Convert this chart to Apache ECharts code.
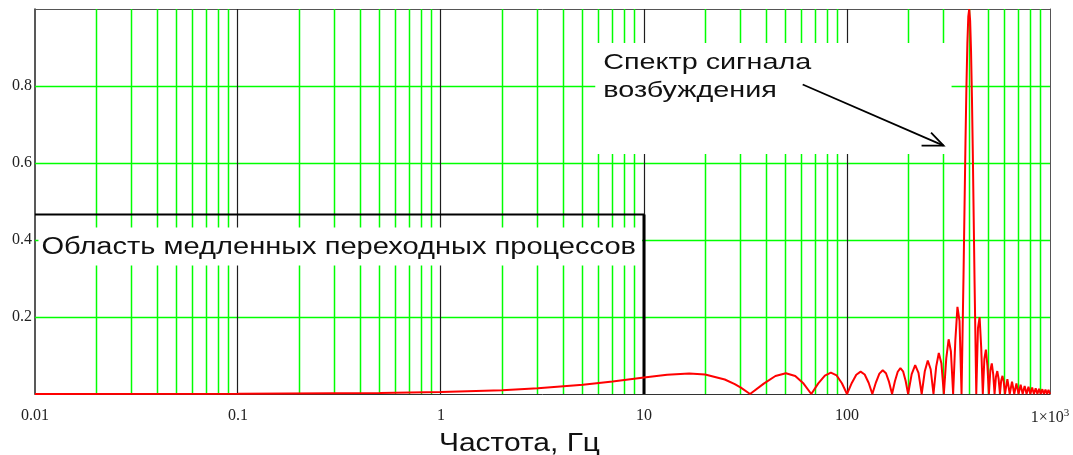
<!DOCTYPE html>
<html>
<head>
<meta charset="utf-8">
<script src="https://cdn.jsdelivr.net/npm/echarts@6/dist/echarts.min.js"></script>
<style>
  html, body { margin: 0; padding: 0; background: #ffffff; }
  #chart { width: 1073px; height: 455px; }
</style>
</head>
<body>
<div id="chart"></div>
<script>
// Spectrum of the excitation signal: frequency (Hz) and normalized magnitude
const freqHz = [
  0.01, 0.1, 0.5, 1, 2, 3, 5, 7, 10, 13, 16.7, 20, 25, 28, 30,
  33.3, 38.9, 44.4, 50, 55.6, 61.1,
  66.7, 72.2, 77.8, 83.3, 88.9, 94.4,
  100, 105.6, 111.1, 116.7, 122.2, 127.8,
  133.3, 138.9, 144.4, 150, 155.6, 161.1,
  166.7, 172.2, 177.8, 183.3, 188.9, 194.4,
  200, 208.3, 216.7, 225,
  233.3, 241.7, 250, 258.3,
  266.7, 275, 283.3, 291.7,
  300, 308.3, 316.7, 325,
  333.3, 341.7, 350, 358.3,
  366.7, 375, 379.2, 383.3, 387.5, 391.7, 395.8, 400, 404.2, 408.3, 412.5, 416.7, 420.8, 425,
  433.3, 441.7, 450, 458.3,
  466.7, 475, 483.3, 491.7,
  500, 508.3, 516.7, 525,
  533.3, 541.7, 550, 558.3,
  566.7, 575, 583.3, 591.7,
  600, 616.7, 633.3, 650, 666.7, 683.3, 700, 716.7, 733.3, 750, 766.7,
  783.3, 800, 816.7, 833.3, 850, 866.7, 883.3, 900, 916.7, 933.3, 950, 966.7, 983.3, 1000
];
const amplitude = [
  0, 0.0005, 0.0025, 0.005, 0.010, 0.0148, 0.0241, 0.0325, 0.0429, 0.0500, 0.0531, 0.0506, 0.0377, 0.0258, 0.0165,
  0, 0.0269, 0.0467, 0.0539, 0.0468, 0.0271,
  0, 0.0276, 0.0479, 0.0555, 0.0482, 0.0279,
  0, 0.0287, 0.0499, 0.0580, 0.0505, 0.0293,
  0, 0.0304, 0.0530, 0.0617, 0.0538, 0.0313,
  0, 0.0331, 0.0578, 0.0672, 0.0589, 0.0343,
  0, 0.0515, 0.0751, 0.0549,
  0, 0.0591, 0.0871, 0.0643,
  0, 0.0711, 0.1065, 0.0801,
  0, 0.0924, 0.1421, 0.1104,
  0, 0.1387, 0.2264, 0.1899,
  0, 0.310, 0.483, 0.650, 0.797, 0.910, 0.980, 1.0, 0.970, 0.891, 0.772, 0.624, 0.459, 0.291,
  0, 0.171, 0.1997, 0.120,
  0, 0.0914, 0.1153, 0.0734,
  0, 0.0610, 0.0794, 0.0519,
  0, 0.0450, 0.0596, 0.0395,
  0, 0.0352, 0.0471, 0.0316,
  0, 0.0385, 0, 0.0323, 0, 0.0277, 0, 0.0240, 0, 0.0211, 0,
  0.0187, 0, 0.0167, 0, 0.0151, 0, 0.0137, 0, 0.0125, 0, 0.0114, 0, 0.0105, 0
];

// Slow-transient region: from the left edge up to 10 Hz, bounded at this level
const regionFreq = [0.01, 10];
const regionLevel = 0.466;

// Axis ticks and grid
const xTickLabels = ['0.01', '0.1', '1', '10', '100', '1×10{sup|3}'];
const yTickLabels = ['0.2', '0.4', '0.6', '0.8'];
const yGridValues = [0.2, 0.4, 0.6, 0.8];
const decadeValues = [0.1, 1, 10, 100];
const minorMultipliers = [2, 3, 4, 5, 6, 7, 8, 9];

// Annotation texts and anchors (data coordinates)
const regionText = 'Область медленных переходных процессов';
const noteLines = ['Спектр сигнала', 'возбуждения'];
const noteAnchor = [6.3, 0.86];
const arrowFrom = [60.5, 0.804];
const arrowTo = [299, 0.645];
const axisTitle = 'Частота, Гц';

const GREEN = '#00ff00';
const SANS = '"Liberation Sans", Arial, sans-serif';
const SERIF = '"Liberation Serif", "Times New Roman", serif';

// Minor vertical grid: 2..9 within each decade
const minorX = [];
for (let e = -2; e < 3; e++) {
  minorMultipliers.forEach(m => minorX.push(m * Math.pow(10, e)));
}

// Pixel-snapped grid lines drawn through the axis scales
const snap = p => Math.floor(p) + 0.5;
function vLine(color, width) {
  return (params, api) => {
    const a = api.coord([api.value(0), 0]);
    const b = api.coord([api.value(0), 1]);
    const x = snap(a[0]);
    return { type: 'line', silent: true,
      shape: { x1: x, y1: b[1], x2: x, y2: a[1] },
      style: { stroke: color, lineWidth: width } };
  };
}
function hLine(color, width) {
  return (params, api) => {
    const a = api.coord([0.01, api.value(1)]);
    const b = api.coord([1000, api.value(1)]);
    const y = snap(a[1]);
    return { type: 'line', silent: true,
      shape: { x1: a[0], y1: y, x2: b[0], y2: y },
      style: { stroke: color, lineWidth: width } };
  };
}

const chart = echarts.init(document.getElementById('chart'), null, { renderer: 'canvas' });

const option = {
  animation: false,
  backgroundColor: '#ffffff',
  grid: { left: 35, right: 23, top: 9, bottom: 61 },
  xAxis: [{
    type: 'log', logBase: 10, min: 0.01, max: 1000,
    axisLine: { show: true, lineStyle: { color: '#333', width: 1 } },
    axisTick: { show: false },
    axisLabel: {
      show: true, margin: 14, color: '#222',
      fontFamily: SERIF, fontSize: 16,
      showMinLabel: true, showMaxLabel: true,
      formatter: v => {
        const i = Math.round(Math.log10(v)) + 2;
        return xTickLabels[i] !== undefined ? xTickLabels[i] : '';
      },
      rich: {
        sup: { fontFamily: SERIF, fontSize: 11, color: '#222', verticalAlign: 'top', padding: [0, 0, 9, 0] }
      }
    },
    splitLine: { show: false }
  }, {
    type: 'log', logBase: 10, min: 0.01, max: 1000, position: 'top',
    axisLine: { show: true, onZero: false, lineStyle: { color: '#555', width: 1 } },
    axisTick: { show: false }, axisLabel: { show: false }, splitLine: { show: false }
  }],
  yAxis: [{
    type: 'value', min: 0, max: 1, interval: 0.2,
    axisLine: { show: true, lineStyle: { color: '#222', width: 1.5 } },
    axisTick: { show: false },
    axisLabel: {
      margin: 3, color: '#222', fontFamily: SERIF, fontSize: 16,
      formatter: v => {
        const s = v.toFixed(1);
        return yTickLabels.includes(s) ? s : '';
      }
    },
    splitLine: { show: false }
  }, {
    type: 'value', min: 0, max: 1, position: 'right',
    axisLine: { show: true, onZero: false, lineStyle: { color: '#555', width: 1 } },
    axisTick: { show: false }, axisLabel: { show: false }, splitLine: { show: false }
  }],
  series: [{
    name: 'minor grid', type: 'custom', z: 1, silent: true,
    renderItem: vLine(GREEN, 1.5),
    data: minorX.map(v => [v, 0.5])
  }, {
    name: 'level grid', type: 'custom', z: 1, silent: true,
    renderItem: hLine(GREEN, 1.5),
    data: yGridValues.map(v => [1, v])
  }, {
    name: 'decade grid', type: 'custom', z: 2, silent: true,
    renderItem: vLine('#1e1e1e', 1.2),
    data: decadeValues.map(v => [v, 0.5])
  }, {
    name: 'region top', type: 'line', silent: true, z: 4, showSymbol: false,
    lineStyle: { color: '#000', width: 2 },
    data: [[regionFreq[0], regionLevel], [regionFreq[1], regionLevel]]
  }, {
    name: 'region edge', type: 'line', silent: true, z: 4, showSymbol: false,
    lineStyle: { color: '#000', width: 3 },
    data: [[regionFreq[1], regionLevel], [regionFreq[1], 0]]
  }, {
    name: 'spectrum', type: 'line', silent: true, z: 5, showSymbol: false,
    lineStyle: { color: '#ff0000', width: 2 },
    data: freqHz.map((f, i) => [f, amplitude[i]])
  }]
};
chart.setOption(option);

// Annotations placed from data anchors
const P = (x, y) => chart.convertToPixel({ xAxisIndex: 0, yAxisIndex: 0 }, [x, y]);
const ctx = document.createElement('canvas').getContext('2d');
const measure = (s, font) => { ctx.font = font; return ctx.measureText(s).width; };

const regionFont = '23px ' + SANS;
const noteFont = '22px ' + SANS;
const titleFont = '25px ' + SANS;

const edge10 = P(regionFreq[1], 0)[0];
const regionLeft = P(0.01076, 0)[0];
const regionMid = P(1, 0.3805)[1];
const regionScale = (edge10 - 8 - regionLeft) / measure(regionText, regionFont);

const noteP = P(noteAnchor[0], noteAnchor[1]);
const noteScale = 208 / measure(noteLines[0], noteFont);
const tip = P(arrowTo[0], arrowTo[1]);
const from = P(arrowFrom[0], arrowFrom[1]);

const gridBottom = P(1, 0)[1];
const titleScale = 161 / measure(axisTitle, titleFont);

function label(text, x, y, font, scale, z) {
  return {
    type: 'text', x: x, y: y, scaleX: scale, z: z, silent: true,
    style: { text: text, x: 0, y: 0, font: font, fill: '#111', align: 'left', verticalAlign: 'middle' }
  };
}

chart.setOption({
  graphic: [
    { type: 'rect', z: 50, silent: true,
      shape: { x: regionLeft - 3, y: regionMid - 20, width: edge10 - 2 - (regionLeft - 3), height: 38 },
      style: { fill: '#ffffff' } },
    label(regionText, regionLeft, regionMid, regionFont, regionScale, 51),
    { type: 'rect', z: 50, silent: true,
      shape: { x: noteP[0] - 8, y: noteP[1] - 20, width: tip[0] + 8 - (noteP[0] - 8), height: 111 },
      style: { fill: '#ffffff' } },
    label(noteLines[0], noteP[0], noteP[1], noteFont, noteScale, 51),
    label(noteLines[1], noteP[0], noteP[1] + 28, noteFont, noteScale, 51),
    { type: 'line', z: 52, silent: true,
      shape: { x1: from[0], y1: from[1], x2: tip[0], y2: tip[1] },
      style: { stroke: '#000', lineWidth: 1.8 } },
    { type: 'polyline', z: 52, silent: true,
      shape: { points: [[tip[0] - 22, tip[1]], [tip[0], tip[1]], [tip[0] - 12.5, tip[1] - 13]] },
      style: { stroke: '#000', lineWidth: 1.8, fill: null } },
    label(axisTitle, 439, gridBottom + 50, titleFont, titleScale, 51)
  ]
});
</script>
</body>
</html>
